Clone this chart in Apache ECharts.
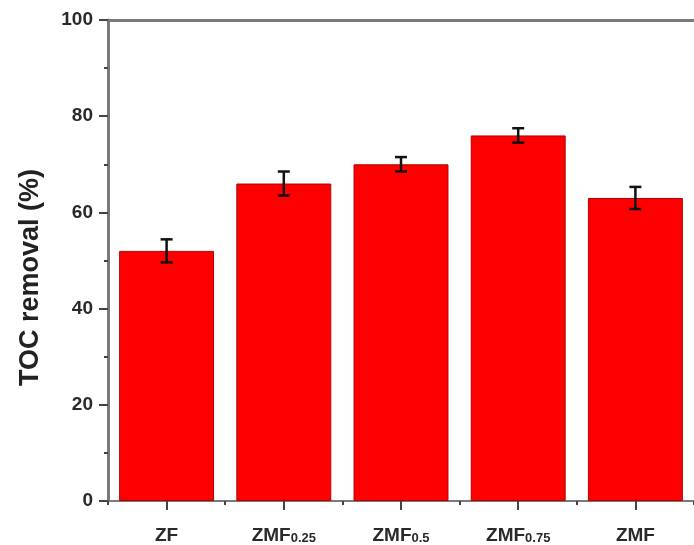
<!DOCTYPE html>
<html>
<head>
<meta charset="utf-8">
<script src="https://cdn.jsdelivr.net/npm/echarts@6/dist/echarts.min.js"></script>
<style>
  html, body { margin: 0; padding: 0; background: #fff; }
  #chart { width: 694px; height: 545px; }
</style>
</head>
<body>
<div id="chart"></div>
<script>
// Samples and their labels (subscript part kept separate)
const samples = ['ZF', 'ZMF0.25', 'ZMF0.5', 'ZMF0.75', 'ZMF'];
const labelMain = ['ZF', 'ZMF', 'ZMF', 'ZMF', 'ZMF'];
const labelSub = ['', '0.25', '0.5', '0.75', ''];
// TOC removal (%) and standard deviations
const tocRemoval = [52, 66, 70, 76, 63];
const tocError = [2.4, 2.5, 1.5, 1.5, 2.3];
// Y axis ticks
const yMin = 0, yMax = 100, yStep = 20;

const font = '"Liberation Sans", Arial, sans-serif';
const axisGrey = '#7a7a7a';

const errorData = tocRemoval.map((v, i) => [i, v - tocError[i], v + tocError[i]]);

const chart = echarts.init(document.getElementById('chart'));
chart.setOption({
  animation: false,
  backgroundColor: '#ffffff',
  grid: { left: 108, right: -9, top: 20, bottom: 42 },
  xAxis: [
    {
      type: 'category',
      data: samples,
      position: 'bottom',
      axisLine: { show: true, lineStyle: { color: axisGrey, width: 2 } },
      axisTick: { show: true, alignWithLabel: true, length: 9, lineStyle: { color: '#444', width: 2 } },
      axisLabel: {
        margin: 25,
        formatter: (val, idx) => '{m|' + labelMain[idx] + '}' + (labelSub[idx] ? '{s|' + labelSub[idx] + '}' : ''),
        rich: {
          m: { fontFamily: font, fontSize: 19, fontWeight: 'bold', color: '#2a2a2a' },
          s: { fontFamily: font, fontSize: 13, fontWeight: 'bold', color: '#2a2a2a', verticalAlign: 'bottom', padding: [4, 0, 0, 0] }
        }
      },
      splitLine: { show: false }
    },
    {
      // short ticks on category boundaries
      type: 'category',
      data: samples,
      position: 'bottom',
      axisLine: { show: false },
      axisTick: { show: true, length: 4, lineStyle: { color: '#444', width: 2 } },
      axisLabel: { show: false },
      splitLine: { show: false }
    },
    {
      // frame line along the top
      type: 'category',
      data: samples,
      position: 'top',
      axisLine: { show: true, lineStyle: { color: axisGrey, width: 3 } },
      axisTick: { show: false },
      axisLabel: { show: false },
      splitLine: { show: false }
    }
  ],
  yAxis: {
    type: 'value',
    min: yMin,
    max: yMax,
    interval: yStep,
    name: 'TOC removal (%)',
    nameLocation: 'middle',
    nameGap: 64,
    nameTextStyle: { fontFamily: font, fontSize: 27, fontWeight: 'bold', color: '#222', padding: [0, 34, 0, 0] },
    axisLine: { show: true, lineStyle: { color: axisGrey, width: 3 } },
    axisTick: { show: true, length: 9, lineStyle: { color: '#444', width: 2 } },
    minorTick: { show: true, splitNumber: 2, length: 4, lineStyle: { color: '#444', width: 2 } },
    axisLabel: { margin: 15, fontFamily: font, fontSize: 19, fontWeight: 'bold', color: '#2a2a2a' },
    splitLine: { show: false }
  },
  series: [
    {
      type: 'bar',
      data: tocRemoval,
      barWidth: '81%',
      itemStyle: { color: '#ff0000', borderColor: '#b30000', borderWidth: 1 }
    },
    {
      type: 'custom',
      data: errorData,
      encode: { x: 0, y: [1, 2] },
      z: 5,
      renderItem: (params, api) => {
        const lo = api.coord([api.value(0), api.value(1)]);
        const hi = api.coord([api.value(0), api.value(2)]);
        const cap = 6;
        const style = { stroke: '#111', lineWidth: 2.5 };
        return {
          type: 'group',
          children: [
            { type: 'line', shape: { x1: hi[0], y1: hi[1], x2: lo[0], y2: lo[1] }, style },
            { type: 'line', shape: { x1: hi[0] - cap, y1: hi[1], x2: hi[0] + cap, y2: hi[1] }, style },
            { type: 'line', shape: { x1: lo[0] - cap, y1: lo[1], x2: lo[0] + cap, y2: lo[1] }, style }
          ]
        };
      }
    }
  ]
});
</script>
</body>
</html>
